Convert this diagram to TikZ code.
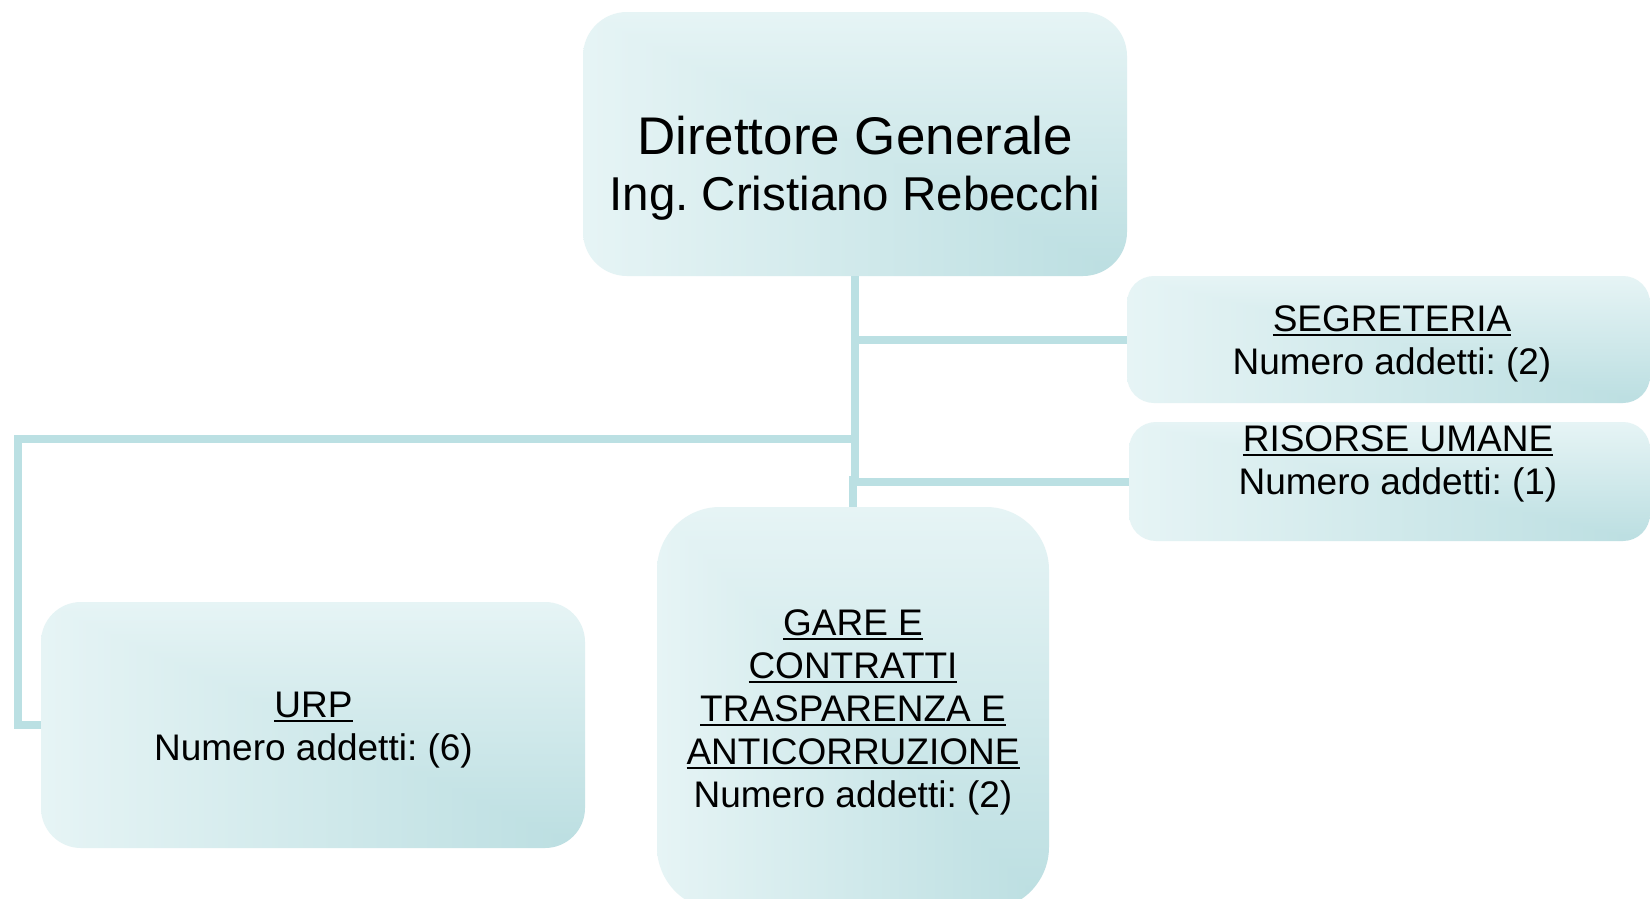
\documentclass[tikz,border=0pt]{standalone}
\usepackage{fontspec}
\setmainfont{Liberation Sans}
\frenchspacing
\definecolor{lineC}{HTML}{BBE0E3}
\pgfdeclarefunctionalshading{cornershade}{\pgfpoint{0bp}{0bp}}{\pgfpoint{100bp}{100bp}}{}{
  25 sub 50 div 1 exch sub
  exch 25 sub 50 div
  2 copy gt {exch} if pop
  dup 0 lt {pop 0} if
  dup 1 gt {pop 1} if
  dup -0.169 mul 0.902 add exch
  dup -0.086 mul 0.957 add exch
  -0.079 mul 0.961 add
}
\newcommand\myul[1]{\setbox0\hbox{#1}\rlap{\rule[-4.6pt]{\wd0}{2.2pt}}\box0}
\begin{document}
\begin{tikzpicture}[x=1pt,y=-1pt,
  box/.style={rectangle, rounded corners=#1, inner sep=0pt, shade, shading=cornershade},
  txt/.style={font=\fontsize{37}{43}\selectfont\frenchspacing, align=center, inner sep=0pt},
  conn/.style={line width=8pt, draw=lineC}]
\path[use as bounding box, fill=white] (0,0) rectangle (1650,898);
% boxes
\node[box=44pt, minimum width=544pt, minimum height=264pt] (dg) at (855,144) {};
\node[box=27pt, minimum width=523pt, minimum height=127pt] (seg) at (1388.5,339.5) {};
\node[box=27pt, minimum width=521pt, minimum height=119pt] (ris) at (1389.5,481.5) {};
\node[box=40pt, minimum width=544pt, minimum height=246pt] (urp) at (313,725) {};
\node[box=63pt, minimum width=392pt, minimum height=403pt] (gare) at (853,708.5) {};
% texts
\node[anchor=base, font=\fontsize{53}{56}\selectfont\frenchspacing, inner sep=0pt] (dgA) at (855,154) {Direttore Generale};
\node[anchor=base, font=\fontsize{47.5}{56}\selectfont\frenchspacing, inner sep=0pt] (dgB) at (855,210) {Ing. Cristiano Rebecchi};
\node[txt] (segT) at (1392,344) {\myul{SEGRETERIA}\\Numero addetti: (2)};
\node[txt] (risT) at (1398,464) {\myul{RISORSE UMANE}\\Numero addetti: (1)};
\node[txt] (urpT) at (313.5,730) {\myul{URP}\\Numero addetti: (6)};
\node[txt] (gareT) at (853,712) {\myul{GARE E}\\\myul{CONTRATTI}\\\myul{TRASPARENZA E}\\\myul{ANTICORRUZIONE}\\Numero addetti: (2)};
% connectors
\coordinate (lc) at (17.5,439);
\draw[conn] (dg.south) |- (seg.west);
\draw[conn] (dg.south) |- (ris.west);
\draw[conn] (dg.south) -- ++(0,204) -| (gare.north);
\draw[conn] (dg.south) |- (lc) |- (urp.west);
\end{tikzpicture}
\end{document}
